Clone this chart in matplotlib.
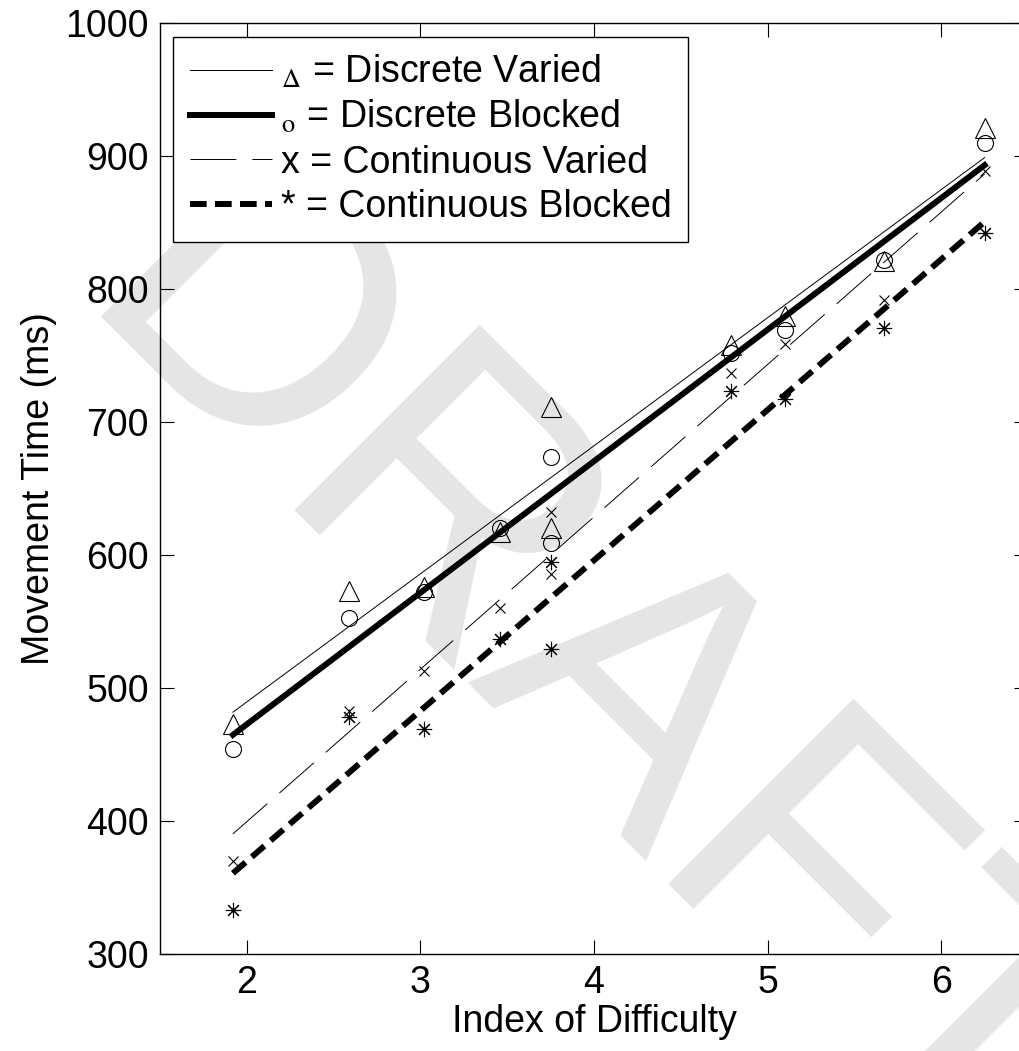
import numpy as np
import matplotlib.pyplot as plt
from matplotlib.lines import Line2D

plt.rcParams['font.family'] = ['Liberation Sans', 'DejaVu Sans']
plt.rcParams['mathtext.fontset'] = 'stix'
plt.rcParams['lines.scale_dashes'] = False

# 난이도 지수 (Index of Difficulty)
ids = [1.92, 2.59, 3.02, 3.46, 3.75, 3.75, 4.79, 5.10, 5.67, 6.25]

# 조건별 이동 시간 (ms)
discrete_varied = [473, 573, 576, 617, 711, 620, 758, 780, 821, 921]
discrete_blocked = [454, 553, 572, 620, 674, 609, 752, 769, 822, 910]
continuous_varied = [370, 483, 513, 560, 632, 586, 737, 759, 792, 889]
continuous_blocked = [333, 478, 469, 537, 595, 529, 723, 717, 771, 842]

labels = [r'${}_{\Delta}$ = Discrete Varied',
          r'${}_{\mathrm{o}}$ = Discrete Blocked',
          'x = Continuous Varied',
          '* = Continuous Blocked']

FS = 27

fig = plt.figure(figsize=(10.2, 10.51), dpi=100)
ax = fig.add_axes([160 / 1020, 97 / 1051, 868 / 1020, 931 / 1051])
ax.patch.set_alpha(0)

# 워터마크
fig.text(0.575, 0.339, 'DRAFT', fontsize=274, color='#e5e5e5', rotation=-45,
         ha='center', va='center', zorder=-5)

x = np.array(ids)
xs = np.array([x.min(), x.max()])

series = [
    (discrete_varied, dict(color='k', lw=0.7, ls='-'), dict(marker='^', ms=14)),
    (discrete_blocked, dict(color='k', lw=4.3, ls='-'), dict(marker='o', ms=11.5)),
    (continuous_varied, dict(color='k', lw=0.7, dashes=(33, 11.5)), dict(marker='x', ms=7)),
    (continuous_blocked, dict(color='k', lw=4.3, dashes=(12, 6)), dict(marker=(8, 2, 0), ms=11)),
]

handles = []
for y, lstyle, mstyle in series:
    y = np.array(y)
    k, b = np.polyfit(x, y, 1)
    h, = ax.plot(xs, k * xs + b, zorder=3, **lstyle)
    ax.plot(x, y, ls='none', mfc='none', mec='k', mew=0.8, zorder=4, **mstyle)
    handles.append(h)

ax.set_xlim(1.5, 6.5)
ax.set_ylim(300, 1000)
ax.set_xticks([2, 3, 4, 5, 6])
ax.set_yticks(np.arange(300, 1001, 100))
ax.tick_params(direction='in', length=10, width=0.8, labelsize=FS,
               top=True, right=True)
ax.tick_params(axis='x', pad=8)
ax.tick_params(axis='y', pad=8)
for s in ax.spines.values():
    s.set_linewidth(1.0)

ax.set_xlabel('Index of Difficulty', fontsize=FS, labelpad=2)
ax.set_ylabel('Movement Time (ms)', fontsize=FS, labelpad=6)

leg = ax.legend(handles, labels, loc='upper left', bbox_to_anchor=(0.015, 0.985),
                borderaxespad=0, fontsize=FS, handlelength=2.2, handletextpad=0.22,
                labelspacing=0.22, borderpad=0.45, fancybox=False, framealpha=1,
                edgecolor='k')
leg.get_frame().set_linewidth(1.0)

fig.savefig('out.png', dpi=100)
